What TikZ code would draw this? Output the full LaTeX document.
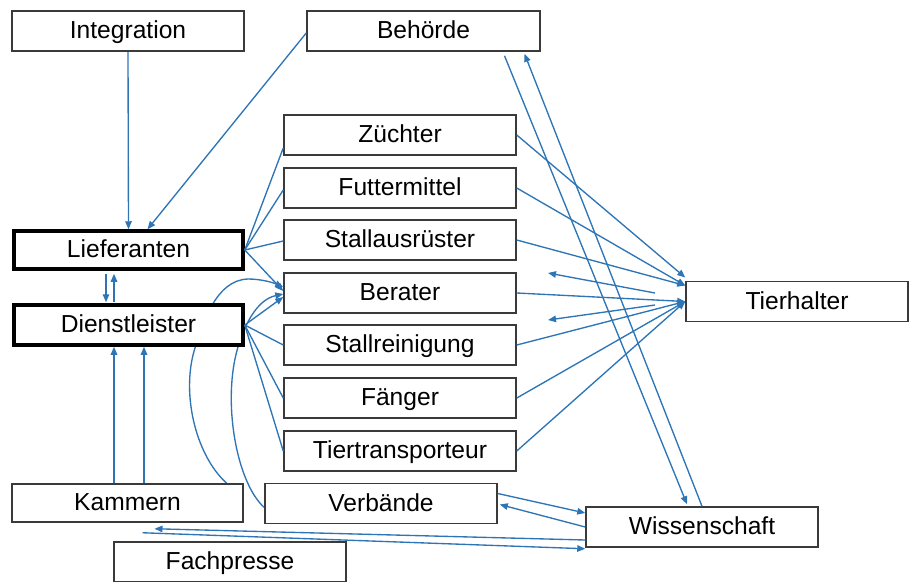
\documentclass[tikz,border=0pt]{standalone}
\usepackage{fontspec}
\setmainfont{Liberation Sans}
\usetikzlibrary{arrows.meta,calc,backgrounds}
\definecolor{linkblue}{HTML}{2E75B6}
\definecolor{frame}{HTML}{3A3A3A}
\begin{document}
\begin{tikzpicture}[x=1pt,y=-1pt,
  box/.style={draw=frame, line width=1.5pt, fill=white, minimum width=232pt,
    minimum height=40pt, inner sep=0pt, text height=17.5pt, text depth=2.5pt,
    font=\fontsize{24.6}{28}\selectfont, text=black},
  keybox/.style={box, draw=black, line width=3.5pt, minimum width=229pt, minimum height=38pt},
  link/.style={draw=linkblue, line width=1.35pt},
  arr/.style={link, -{Triangle[length=8pt,width=6.5pt]}}]
\useasboundingbox (0,0) rectangle (909,581);
\clip (0,0) rectangle (909,581);

% actors
\node[box] (int) at (128,31) {Integration};
\node[box, minimum width=233pt] (beh) at (423.5,31) {Behörde};
\node[box] (zue) at (400,135) {Züchter};
\node[box] (fut) at (400,188) {Futtermittel};
\node[box] (sta) at (400,240) {Stallausrüster};
\node[box] (ber) at (400,293) {Berater};
\node[box] (rei) at (400,345) {Stallreinigung};
\node[box] (fae) at (400,398) {Fänger};
\node[box] (tra) at (400,451) {Tiertransporteur};
\node[keybox] (lie) at (128.5,250) {Lieferanten};
\node[keybox, minimum height=40pt] (die) at (128.5,325) {Dienstleister};
\node[box, minimum width=222pt] (tie) at (797,301.5) {Tierhalter};
\node[box, minimum width=231pt, minimum height=38pt] (kam) at (127.5,503) {Kammern};
\node[box] (ver) at (381,503.5) {Verbände};
\node[box] (wis) at (702,527) {Wissenschaft};
\node[box] (fach) at (230,562) {Fachpresse};

% long curves running behind the Dienstleister box
\begin{scope}[on background layer]
\draw[arr] ($(kam.north east)+(-17,0)$) .. controls (195,455) and (180,390) .. (196,345)
  .. controls (203,325) and (215,280) .. (248,279)
  .. controls (262,279) and (274,283) .. ($(ber.west)+(0,-6)$);
\draw[arr] ($(ver.west)+(0,4)$) .. controls (236,482) and (222,400) .. (238,347)
  .. controls (243,330) and (255,300) .. ($(ber.west)+(0,1)$);
\end{scope}

% upper left
\draw[arr] (int.south) -- (lie.north);
\draw[arr] ($(beh.west)+(0,2)$) -- ($(lie.north)+(19,0)$);
\draw[arr] ($(lie.south)+(-22.5,3)$) -- ($(die.north)+(-22.5,-1)$);
\draw[arr] ($(die.north)+(-14.5,-1)$) -- ($(lie.south)+(-14.5,3)$);
\draw[arr] ($(kam.north)+(-13.5,0)$) -- ($(die.south)+(-14.5,0)$);
\draw[arr] ($(kam.north)+(16.5,0)$) -- ($(die.south)+(15.5,0)$);

% Lieferanten fan
\draw[link] (lie.east) -- ($(zue.west)+(0,13)$);
\draw[link] (lie.east) -- ($(fut.west)+(0,2)$);
\draw[link] (lie.east) -- ($(sta.west)+(0,1)$);
\draw[arr] (lie.east) -- ($(ber.west)+(0,-2)$);

% Dienstleister fan
\draw[arr] (die.east) -- ($(ber.west)+(0,4)$);
\draw[link] (die.east) -- (rei.west);
\draw[link] (die.east) -- (fae.west);
\draw[link] (die.east) -- (tra.west);

% towards Tierhalter
\draw[arr] (zue.east) -- ($(tie.west)+(0,-24)$);
\draw[arr] (fut.east) -- ($(tie.west)+(0,-16)$);
\draw[arr] (sta.east) -- ($(tie.west)+(0,-16)$);
\draw[arr] (ber.east) -- (tie.west);
\draw[arr] (rei.east) -- (tie.west);
\draw[arr] (fae.east) -- (tie.west);
\draw[arr] (tra.east) -- (tie.west);

% loose return arrows
\coordinate (ra1) at (655,293);
\coordinate (re1) at (548,273);
\coordinate (ra2) at (655,305);
\coordinate (re2) at (548,320);
\draw[arr] (ra1) -- (re1);
\draw[arr] (ra2) -- (re2);

% Behörde and Wissenschaft
\draw[arr] ($(beh.south)+(81,4)$) -- ($(wis.north)+(-15,-2)$);
\draw[arr] (wis.north) -- ($(beh.south)+(101,2)$);

% Verbände and Wissenschaft
\draw[arr] ($(ver.east)+(0,-10)$) -- ($(wis.west)+(0,-14)$);
\draw[arr] (wis.west) -- ($(ver.east)+(2,1)$);

% Kammern and Wissenschaft
\coordinate (kamIn) at ($(kam.south)+(27,6)$);
\coordinate (kamOut) at ($(kam.south)+(15,10)$);
\draw[arr] ($(wis.west)+(0,13)$) -- (kamIn);
\draw[arr] (kamOut) -- ($(wis.south west)+(0,1)$);
\end{tikzpicture}
\end{document}
